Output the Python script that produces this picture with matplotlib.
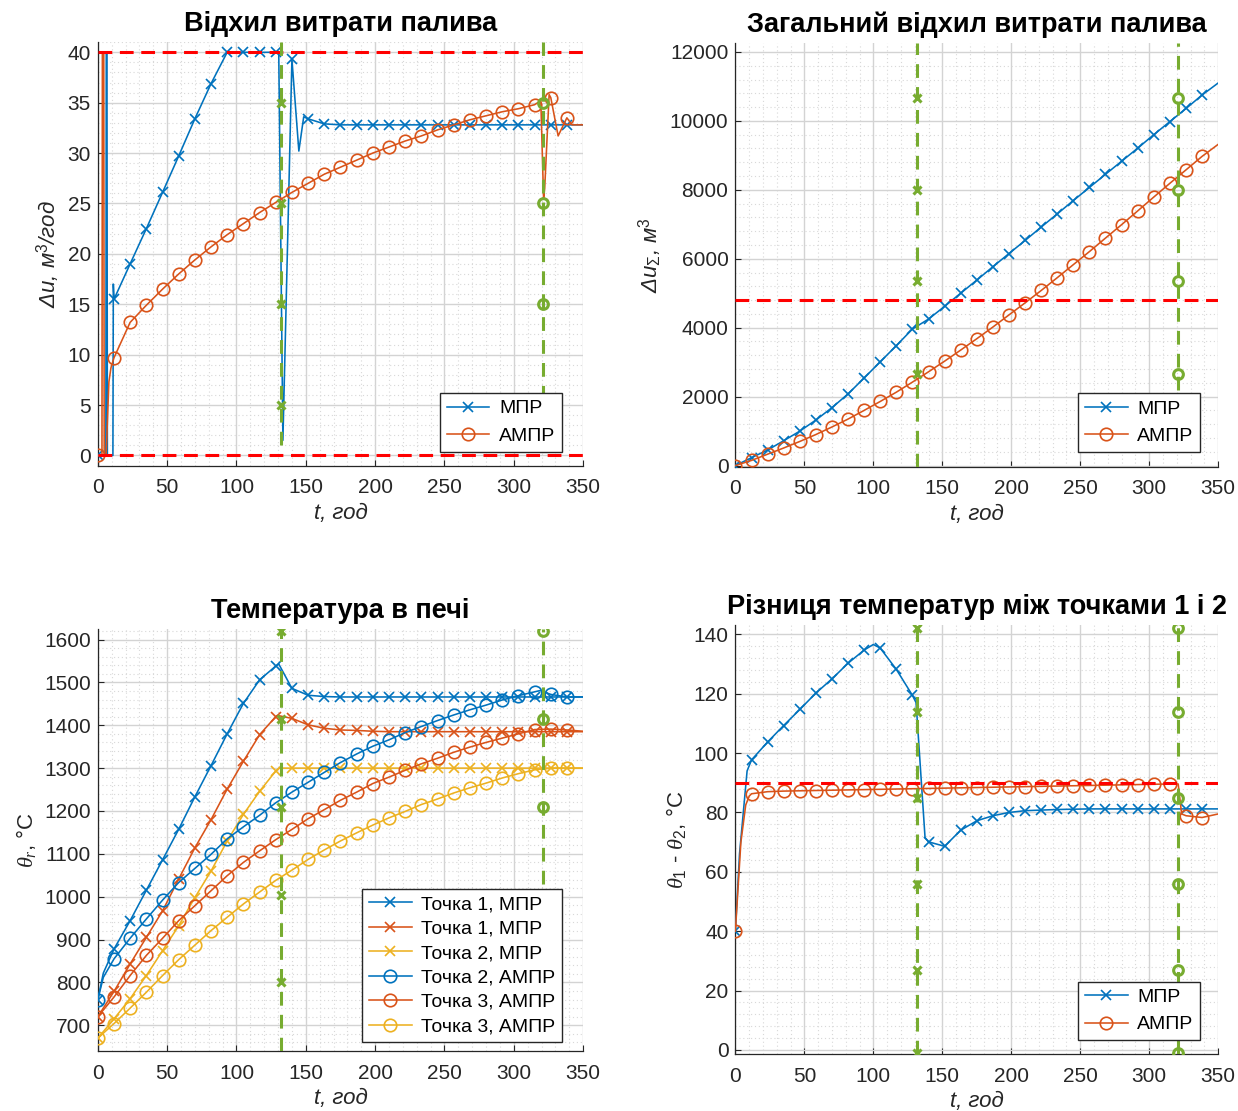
import numpy as np
import matplotlib.pyplot as plt
from matplotlib.ticker import MultipleLocator

plt.rcParams['font.family'] = ['Liberation Sans', 'DejaVu Sans']
plt.rcParams['mathtext.fontset'] = 'custom'
plt.rcParams['mathtext.rm'] = 'Liberation Sans'
plt.rcParams['mathtext.it'] = 'Liberation Serif:italic'

BLUE, ORANGE, YELLOW = '#0072BD', '#D95319', '#EDB120'
GREEN, RED = '#77AC30', '#FF0000'

# sample times where the markers sit (every 30th of the run)
t_mark = [0, 11.7, 23.3, 35, 46.7, 58.3, 70, 81.7, 93.3, 105, 116.7, 128.3,
          140, 151.7, 163.3, 175, 186.7, 198.3, 210, 221.7, 233.3, 245,
          256.7, 268.3, 280, 291.7, 303.3, 315, 326.7, 338.3]

# --- fuel deviation, m3/h
du_mpr = [0, 15.5, 19.0, 22.5, 26.1, 29.7, 33.4, 36.9, 40, 40, 40, 40,
          39.3, 33.4, 32.9, 32.8, 32.8, 32.8, 32.8, 32.8, 32.8, 32.8,
          32.8, 32.8, 32.8, 32.8, 32.8, 32.8, 32.8, 32.8]
du_mpr_xt = [5.8, 6.1, 6.6, 6.9, 10.9, 11.2, 130.5, 133.5, 145, 148.5, 350]
du_mpr_xy = [0, 40, 40, 0, 0, 17, 40, 1.5, 30.2, 33.6, 32.8]
du_ampr = [0, 9.7, 13.2, 14.9, 16.5, 18.0, 19.4, 20.7, 21.9, 23.0, 24.1, 25.1,
           26.1, 27.0, 27.9, 28.6, 29.3, 30.0, 30.6, 31.2, 31.7, 32.3,
           32.8, 33.3, 33.7, 34.1, 34.4, 34.8, 35.5, 33.5]
du_ampr_xt = [3.0, 3.3, 4.3, 4.6, 6.0, 8.0, 9.5, 319.5, 321.5, 322.3, 325.5,
              332, 342, 350]
du_ampr_xy = [0, 40, 40, 0, 0, 7.3, 8.7, 35.2, 25.5, 26.5, 35.8,
              31.7, 32.8, 32.8]

# --- total fuel deviation, m3
sum_mpr = [0, 230, 450, 720, 1000, 1320, 1680, 2080, 2540, 3010, 3480, 3960,
           4250, 4620, 5000, 5380, 5770, 6150, 6530, 6920, 7300, 7690,
           8070, 8450, 8830, 9210, 9600, 9980, 10360, 10750]
sum_ampr = [0, 150, 330, 510, 700, 900, 1120, 1350, 1600, 1860, 2130, 2420,
            2720, 3030, 3350, 3680, 4020, 4370, 4720, 5080, 5450, 5830,
            6210, 6600, 6990, 7390, 7790, 8190, 8580, 8970]
sum_end = [11100, 9320]

# --- furnace temperatures, C
p1_mpr = [760, 878, 944, 1015, 1086, 1157, 1233, 1306, 1380, 1451, 1506, 1538,
          1486, 1470, 1467, 1466, 1466, 1466, 1466, 1466, 1466, 1466,
          1466, 1466, 1466, 1466, 1466, 1466, 1466, 1466]
p1b_mpr = [720, 779, 843, 905, 967, 1041, 1114, 1180, 1251, 1316, 1378, 1420,
           1416, 1401, 1393, 1389, 1388, 1386, 1385, 1385, 1385, 1385,
           1385, 1385, 1385, 1385, 1385, 1385, 1385, 1385]
p2_mpr = [670, 715, 762, 816, 874, 932, 998, 1060, 1130, 1192, 1246, 1293,
          1300, 1300, 1300, 1300, 1300, 1300, 1300, 1300, 1300, 1300,
          1300, 1300, 1300, 1300, 1300, 1300, 1300, 1300]
p2_ampr = [760, 855, 903, 948, 992, 1033, 1066, 1099, 1135, 1163, 1190, 1219,
           1244, 1267, 1290, 1313, 1333, 1351, 1366, 1383, 1397, 1411,
           1424, 1436, 1447, 1459, 1469, 1478, 1472, 1466]
p3_ampr = [720, 766, 816, 863, 903, 944, 979, 1014, 1049, 1080, 1107, 1133,
           1157, 1182, 1203, 1225, 1244, 1264, 1279, 1295, 1310, 1323,
           1337, 1349, 1360, 1370, 1380, 1390, 1391, 1389]
p3b_ampr = [670, 704, 740, 777, 816, 853, 887, 921, 952, 983, 1011, 1038,
            1062, 1087, 1109, 1130, 1149, 1167, 1184, 1199, 1215, 1228,
            1242, 1254, 1265, 1277, 1287, 1296, 1300, 1300]
temp_xt = {'p1m': ([4, 130.5, 350], [822, 1543, 1466]),
           'p1bm': ([129.5, 350], [1423, 1385]),
           'p2m': ([131, 350], [1300, 1300]),
           'p2a': ([4, 319, 350], [812, 1481, 1466]),
           'p3a': ([350], [1386]),
           'p3ba': ([350], [1300])}

# --- temperature difference between points 1 and 2, C
dt_mpr = [40, 97.7, 103.7, 109.3, 114.7, 120.2, 125.0, 130.3, 134.7, 135.4,
          128.2, 119.5, 70.1, 68.6, 74.0, 77.2, 78.9, 80.0, 80.6, 80.8,
          81.0, 81.1, 81.2, 81.2, 81.2, 81.2, 81.2, 81.2, 81.2, 81.2]
dt_mpr_xt = [3, 8.5, 100, 131, 137.5, 350]
dt_mpr_xy = [66, 94, 136.6, 117.0, 71.5, 81.2]
dt_ampr = [40, 86.3, 87.0, 87.2, 87.3, 87.4, 87.5, 87.6, 87.7, 87.8, 87.9,
           88.0, 88.1, 88.2, 88.3, 88.4, 88.5, 88.6, 88.7, 88.8, 88.9, 89.0,
           89.1, 89.2, 89.3, 89.4, 89.5, 89.6, 78.9, 78.3]
dt_ampr_xt = [4, 7.5, 10, 321, 323.5, 350]
dt_ampr_xy = [70, 82.5, 85.5, 89.6, 79.5, 79.5]

# switching moments
t_sw = [132, 321]


def path(y_mark, t_extra=(), y_extra=()):
    t = np.array(list(t_mark) + list(t_extra), float)
    y = np.array(list(y_mark) + list(y_extra), float)
    order = np.argsort(t, kind='stable')
    marks = list(np.flatnonzero(order < len(t_mark)))
    return t[order], y[order], marks


def draw(ax, y_mark, t_extra, y_extra, color, marker, label):
    t, y, marks = path(y_mark, t_extra, y_extra)
    ms = 9 if marker == 'o' else 7
    ax.plot(t, y, color=color, lw=1.15, marker=marker, markevery=marks, ms=ms,
            mfc='none', mew=1.2, label=label, zorder=3)


def switch_lines(ax, spans, marks):
    for (t0, (y0, y1)), (mk, ys) in zip(zip(t_sw, spans), marks):
        ax.plot([t0, t0], [y0, y1], color=GREEN, lw=2.2, dashes=(4.5, 3),
                zorder=4)
        ax.plot([t0] * len(ys), ys, ls='none', marker=mk, color=GREEN,
                ms=6 if mk == 'x' else 7, mew=2.2, mfc='none', zorder=5)


def style(ax, ylim, ymaj, title, ylabel, ylabel_style='italic'):
    ax.set_xlim(0, 350)
    ax.set_ylim(*ylim)
    ax.xaxis.set_major_locator(MultipleLocator(50))
    ax.xaxis.set_minor_locator(MultipleLocator(10))
    ax.yaxis.set_major_locator(MultipleLocator(ymaj))
    ax.yaxis.set_minor_locator(MultipleLocator(ymaj / 5))
    ax.grid(which='major', color='#d3d3d3', lw=1.0)
    ax.grid(which='minor', color='#d8d8d8', lw=0.8, ls=(0, (1, 2.5)))
    ax.set_axisbelow(True)
    for s in ['top', 'right']:
        ax.spines[s].set_visible(False)
    for s in ['left', 'bottom']:
        ax.spines[s].set_color('#262626')
        ax.spines[s].set_linewidth(0.9)
    ax.tick_params(which='major', direction='in', length=4, labelsize=15,
                   colors='#262626', width=0.8)
    ax.tick_params(axis='x', pad=9)
    ax.tick_params(axis='y', pad=5)
    ax.tick_params(which='minor', length=0)
    ax.set_title(title, fontsize=19.5, fontweight='bold', pad=8)
    ax.set_xlabel('t, год', fontsize=16, style='italic', color='#262626',
                  labelpad=4)
    ax.set_ylabel(ylabel, fontsize=16, style=ylabel_style, color='#262626',
                  labelpad=4)


def legend(ax, anchor, **kw):
    lg = ax.legend(loc='lower right', bbox_to_anchor=anchor, fontsize=14,
                   frameon=True, fancybox=False, edgecolor='#262626',
                   framealpha=1, handlelength=2.2, handletextpad=0.5,
                   borderaxespad=0, borderpad=0.35, **kw)
    lg.get_frame().set_linewidth(1.0)
    lg.set_zorder(10)


fig = plt.figure(figsize=(12.38, 11.11), dpi=100)
ax1 = fig.add_axes([0.079, 0.581, 0.392, 0.381])
ax2 = fig.add_axes([0.594, 0.580, 0.390, 0.381])
ax3 = fig.add_axes([0.079, 0.054, 0.392, 0.380])
ax4 = fig.add_axes([0.594, 0.051, 0.390, 0.386])

# panel 1
draw(ax1, du_mpr, du_mpr_xt, du_mpr_xy, BLUE, 'x', 'МПР')
draw(ax1, du_ampr, du_ampr_xt, du_ampr_xy, ORANGE, 'o', 'АМПР')
for lvl in [40, 0]:
    ax1.axhline(lvl, color=RED, lw=2.2, dashes=(4.5, 2.5), zorder=4)
switch_lines(ax1, [(1, 41), (1, 41)], [('x', [5, 15, 25, 35]),
                                      ('o', [15, 25, 35])])
style(ax1, (-1, 41), 5, 'Відхил витрати палива', 'Δu, м$^3$/год')
legend(ax1, (0.957, 0.033))

# panel 2
t_end = [350]
draw(ax2, sum_mpr, t_end, sum_end[:1], BLUE, 'x', 'МПР')
draw(ax2, sum_ampr, t_end, sum_end[1:], ORANGE, 'o', 'АМПР')
ax2.axhline(4800, color=RED, lw=2.2, dashes=(4.5, 2.5), zorder=4)
switch_lines(ax2, [(-30, 12250), (2200, 12250)],
             [('x', [2650, 5350, 8000, 10650]),
              ('o', [2650, 5350, 8000, 10650])])
style(ax2, (-30, 12250), 2000, 'Загальний відхил витрати палива',
      'Δu$_{\\Sigma}$, м$^3$')
legend(ax2, (0.963, 0.035))

# panel 3
series3 = [(p1_mpr, 'p1m', BLUE, 'x', 'Точка 1, МПР'),
           (p1b_mpr, 'p1bm', ORANGE, 'x', 'Точка 1, МПР'),
           (p2_mpr, 'p2m', YELLOW, 'x', 'Точка 2, МПР'),
           (p2_ampr, 'p2a', BLUE, 'o', 'Точка 2, АМПР'),
           (p3_ampr, 'p3a', ORANGE, 'o', 'Точка 3, АМПР'),
           (p3b_ampr, 'p3ba', YELLOW, 'o', 'Точка 3, АМПР')]
for ys, key, c, m, lab in series3:
    draw(ax3, ys, temp_xt[key][0], temp_xt[key][1], c, m, lab)
switch_lines(ax3, [(640, 1625), (1030, 1625)],
             [('x', [800, 1005, 1210, 1415, 1620]),
              ('o', [1210, 1415, 1620])])
style(ax3, (640, 1625), 100, 'Температура в печі', '$\\theta_r$, °C',
      ylabel_style='normal')
legend(ax3, (0.957, 0.021), labelspacing=0.35)

# panel 4
draw(ax4, dt_mpr, dt_mpr_xt, dt_mpr_xy, BLUE, 'x', 'МПР')
draw(ax4, dt_ampr, dt_ampr_xt, dt_ampr_xy, ORANGE, 'o', 'АМПР')
ax4.axhline(90, color=RED, lw=2.2, dashes=(4.5, 2.5), zorder=4)
switch_lines(ax4, [(-1.5, 143), (-1.5, 143)],
             [('x', [-1, 27, 56, 85, 114, 142]),
              ('o', [-1, 27, 56, 85, 114, 142])])
style(ax4, (-1.5, 143), 20, 'Різниця температур між точками 1 і 2',
      '$\\theta_1$ - $\\theta_2$, °C', ylabel_style='normal')
legend(ax4, (0.963, 0.033))

fig.savefig('out.png', dpi=100)
